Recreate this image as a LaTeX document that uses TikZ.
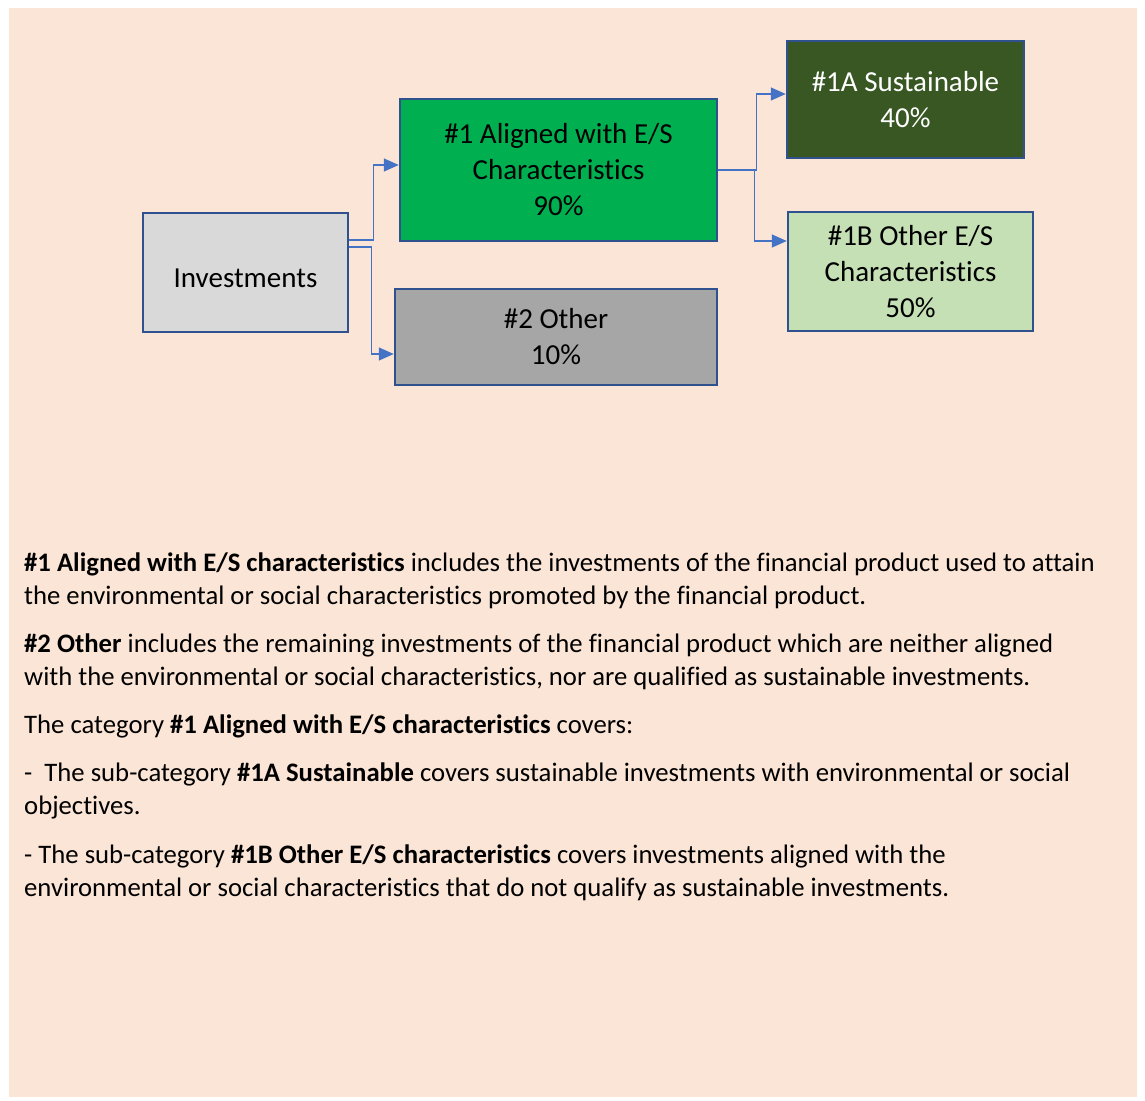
\documentclass[tikz,border=0pt]{standalone}
\usepackage{fontspec}
\setmainfont[Ligatures={NoCommon}]{Carlito}
\usetikzlibrary{arrows.meta,calc}
\definecolor{peach}{HTML}{FBE5D6}
\definecolor{boxline}{HTML}{2F528F}
\definecolor{conncol}{HTML}{4472C4}
\definecolor{invfill}{HTML}{D9D9D9}
\definecolor{alfill}{HTML}{00B050}
\definecolor{otfill}{HTML}{A6A6A6}
\definecolor{susfill}{HTML}{385723}
\definecolor{esfill}{HTML}{C5E0B4}
\begin{document}
\begin{tikzpicture}[x=1pt,y=-1pt,
  catbox/.style={draw=boxline,line width=2.5pt,inner sep=0pt,align=center,
    font=\fontsize{29}{36}\selectfont},
  conn/.style={draw=conncol,line width=1.5pt,-{Triangle[length=15pt,width=13pt]}},
  bodytext/.style={anchor=base west,inner sep=0pt,align=left,
    font=\fontsize{26.7}{33}\selectfont}]
\useasboundingbox (0,0) rectangle (1145,1100);
\fill[white] (0,0) rectangle (1145,1100);
\fill[peach] (9,8) rectangle (1137,1097);
% boxes
\node[catbox,fill=invfill,minimum width=205pt,minimum height=119pt,text height=40pt,text depth=10pt] (inv) at (245.5,272.5) {Investments};
\node[catbox,fill=alfill,minimum width=317pt,minimum height=142pt] (al) at (558.5,170) {\#1 Aligned with E/S\\Characteristics\\90\%};
\node[catbox,fill=otfill,minimum width=322pt,minimum height=96pt] (ot) at (556,337) {\#2 Other\\10\%};
\node[catbox,fill=susfill,text=white,minimum width=237pt,minimum height=117pt] (sus) at (905.5,99.5) {\#1A Sustainable\\40\%};
\node[catbox,fill=esfill,minimum width=245pt,minimum height=119pt] (es) at (910.5,271.5) {\#1B Other E/S\\Characteristics\\50\%};
% connectors
\draw[conn] ($(inv.north east)+(0,28)$) -- ++(24,0) |- ([yshift=5pt]al.west);
\draw[conn] ($(inv.north east)+(0,35)$) -- ++(22,0) |- ([yshift=-17pt]ot.west);
\draw[conn] (al.east) -- ++(38,0) |- ([yshift=5.5pt]sus.west);
\draw[conn] (al.east) -- ++(36,0) |- ([yshift=30.5pt]es.west);
% text (base anchor = baseline of last line)
\node[bodytext] (p1) at (24,604) {\textbf{\#1 Aligned with E/S characteristics} includes the investments of the financial product used to attain\\the environmental or social characteristics promoted by the financial product.};
\node[bodytext] (p2) at (24,685) {\textbf{\#2 Other} includes the remaining investments of the financial product which are neither aligned\\with the environmental or social characteristics, nor are qualified as sustainable investments.};
\node[bodytext] (p3) at (24,733) {The category \textbf{\#1 Aligned with E/S characteristics} covers:};
\node[bodytext] (p4) at (24,814) {-\ \ The sub-category \textbf{\#1A Sustainable} covers sustainable investments with environmental or social\\objectives.};
\node[bodytext] (p5) at (24,896) {- The sub-category \textbf{\#1B Other E/S characteristics} covers investments aligned with the\\environmental or social characteristics that do not qualify as sustainable investments.};
\end{tikzpicture}
\end{document}
